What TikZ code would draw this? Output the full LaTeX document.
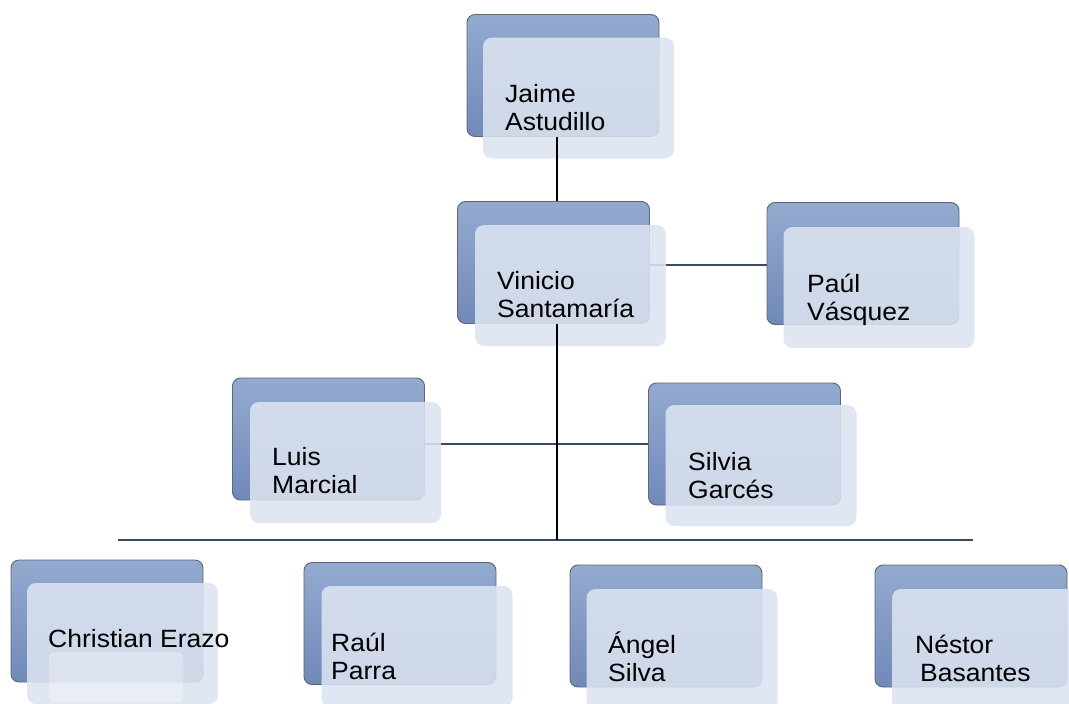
\documentclass[tikz,border=0pt]{standalone}
\usepackage{fontspec}
\setmainfont{Liberation Sans}[FakeStretch=1.06]
\definecolor{backtop}{HTML}{93AAD0}
\definecolor{backbot}{HTML}{7189B8}
\definecolor{backline}{HTML}{5E6774}
\definecolor{frontfill}{HTML}{DCE4F0}
\definecolor{hline}{HTML}{3C4A60}
\begin{document}
\begin{tikzpicture}[x=1pt,y=1pt,
  backbox/.style={rectangle, rounded corners=8pt, minimum width=192pt, minimum height=122pt,
     top color=backtop, bottom color=backbot, draw=backline, line width=0.9pt, inner sep=0pt},
  frontbox/.style={rectangle, rounded corners=9pt, minimum width=191pt, minimum height=121pt,
     fill=frontfill, fill opacity=0.87, inner sep=0pt},
  label text/.style={font=\fontsize{25}{28.5}\selectfont, align=left, inner sep=0pt, anchor=base west, text=black},
  hconn/.style={draw=hline, line width=2pt},
  vconn/.style={draw=black, line width=2.6pt}]
\useasboundingbox (0,0) rectangle (1069,-704);
% back boxes
\node[backbox] (bJ) at (563,-75.5) {};
\node[backbox] (bV) at (553.5,-262.5) {};
\node[backbox] (bP) at (863,-263.5) {};
\node[backbox] (bL) at (328.5,-439) {};
\node[backbox] (bS) at (744.5,-444) {};
\node[backbox] (bC) at (107,-621) {};
\node[backbox] (bR) at (400,-623.5) {};
\node[backbox] (bA) at (666,-626) {};
\node[backbox] (bN) at (971,-626) {};
% coordinates
\coordinate (spine) at (557,0);
\coordinate (barC) at (557,-540);
\coordinate (barL) at (118,-540);
\coordinate (barR) at (973,-540);
% horizontal connectors (under front boxes)
\draw[hconn] (bV.east |- 0,-265) -- (bP.west |- 0,-265);
\draw[hconn] (bL.east |- bS.west) -- (bS.west);
\draw[hconn] (barL) -- (barR);
% front boxes
\node[frontbox] (fJ) at (578.5,-98) {};
\node[frontbox] (fV) at (570.5,-285.5) {};
\node[frontbox] (fP) at (879,-287.5) {};
\node[frontbox] (fL) at (345.5,-462.5) {};
\node[frontbox] (fS) at (761,-465.5) {};
\node[frontbox] (fC) at (122.5,-643.5) {};
\node[frontbox] (fR) at (417,-646.5) {};
\node[frontbox] (fA) at (682,-649.5) {};
\node[frontbox] (fN) at (987.5,-649.5) {};
\fill[white, fill opacity=0.3, rounded corners=6pt] (49,-652) rectangle (183,-702);
% vertical connectors (over front boxes)
\draw[vconn] (bJ.south -| spine) -- (bV.north -| spine);
\draw[vconn] (bV.south -| spine) -- (barC);
% texts (base anchor = baseline of the last line)
\node[label text] (tJ) at (505,-130.5) {Jaime\\Astudillo};
\node[label text] (tV) at (497,-317.5) {Vinicio\\Santamaría};
\node[label text] (tP) at (807,-320.5) {Paúl\\Vásquez};
\node[label text] (tL) at (272,-493.5) {Luis\\Marcial};
\node[label text] (tS) at (688,-498.5) {Silvia\\Garcés};
\node[label text] (tC) at (48,-647) {Christian Erazo};
\node[label text] (tR) at (331,-679.5) {Raúl\\Parra};
\node[label text] (tA) at (608,-681.5) {Ángel\\Silva};
\node[label text] (tN) at (915,-681.5) {Néstor\\\hspace*{5pt}Basantes};
\end{tikzpicture}
\end{document}
